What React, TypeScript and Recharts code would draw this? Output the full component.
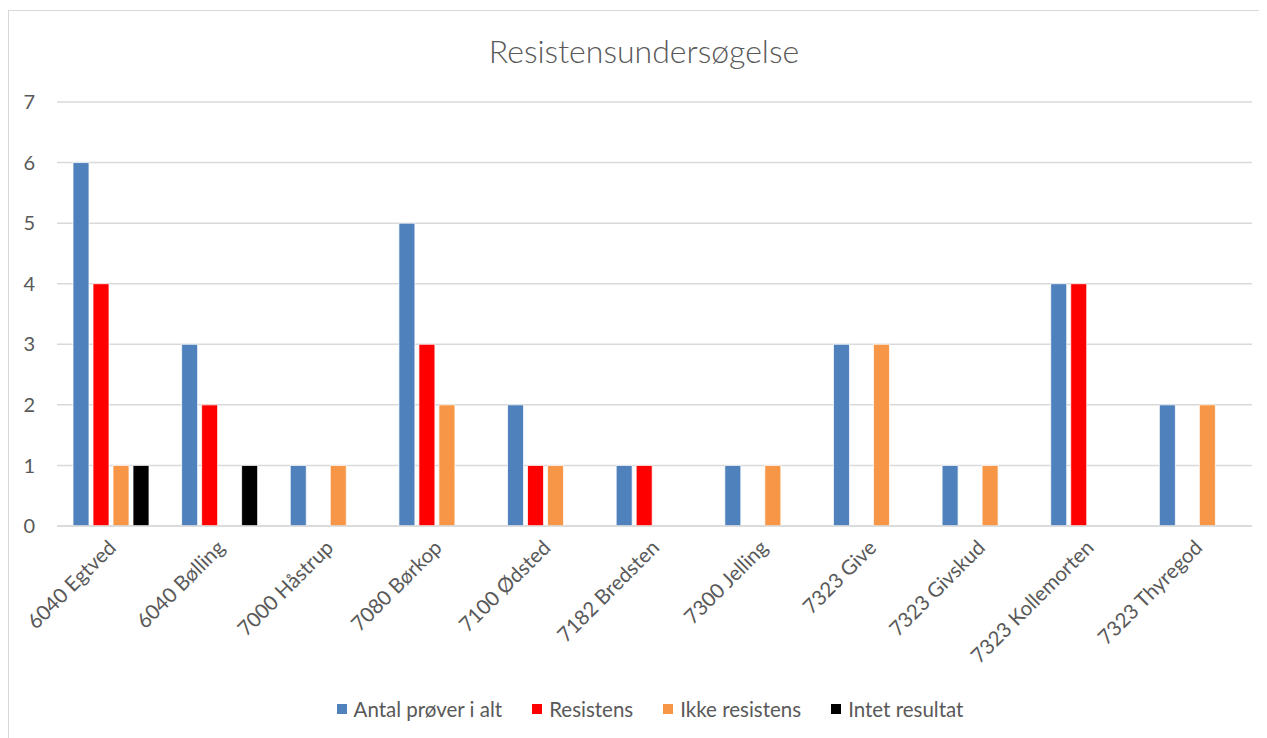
import React from 'react'
import { BarChart, Bar, XAxis, YAxis, CartesianGrid, Legend } from 'recharts'

const categories = [
  '6040 Egtved',
  '6040 Bølling',
  '7000 Håstrup',
  '7080 Børkop',
  '7100 Ødsted',
  '7182 Bredsten',
  '7300 Jelling',
  '7323 Give',
  '7323 Givskud',
  '7323 Kollemorten',
  '7323 Thyregod',
]

const antal = [6, 3, 1, 5, 2, 1, 1, 3, 1, 4, 2]
const resistens = [4, 2, null, 3, 1, 1, null, null, null, 4, null]
const ikkeResistens = [1, null, 1, 2, 1, null, 1, 3, 1, null, 2]
const intet = [1, 1, null, null, null, null, null, null, null, null, null]

const yTicks = [0, 1, 2, 3, 4, 5, 6, 7]

const series = [
  { key: 'antal', name: 'Antal prøver i alt', color: '#4f81bd' },
  { key: 'resistens', name: 'Resistens', color: '#ff0000' },
  { key: 'ikke', name: 'Ikke resistens', color: '#f79646' },
  { key: 'intet', name: 'Intet resultat', color: '#000000' },
]

const data = categories.map((name, i) => ({
  name,
  antal: antal[i],
  resistens: resistens[i],
  ikke: ikkeResistens[i],
  intet: intet[i],
}))

const FONT = 'Lato, "Open Sans", sans-serif'
const TEXT = '#595959'

const XTick = (props: any) => {
  const { x, y, payload } = props
  return (
    <text
      transform={`translate(${x + 6},${y + 15}) rotate(-45)`}
      textAnchor="end"
      fill={TEXT}
      fontSize={20.5}
      fontFamily={FONT}
    >
      {payload.value}
    </text>
  )
}

const LegendContent = () => (
  <div style={{ display: 'flex', justifyContent: 'center', gap: 30, fontFamily: FONT, fontSize: 20.5, color: TEXT }}>
    {series.map((s) => (
      <div key={s.key} style={{ display: 'flex', alignItems: 'center' }}>
        <span style={{ display: 'inline-block', width: 10, height: 10, background: s.color, marginRight: 7 }} />
        <span>{s.name}</span>
      </div>
    ))}
  </div>
)

export default function App() {
  return (
    <div
      style={{
        position: 'relative',
        marginTop: 2,
        width: 1254,
        height: 740,
        border: '1px solid #d9d9d9',
        boxSizing: 'border-box',
        background: '#fff',
      }}
    >
      <div
        style={{
          position: 'absolute',
          top: 20,
          left: 9,
          width: '100%',
          textAlign: 'center',
          fontFamily: FONT,
          fontSize: 32,
          color: TEXT,
          fontWeight: 300,
        }}
      >
        Resistensundersøgelse
      </div>
      <BarChart
        width={1252}
        height={738}
        data={data}
        margin={{ top: 91, right: 9, left: 10, bottom: 0 }}
        barSize={16}
        barGap={4}
      >
        <CartesianGrid vertical={false} stroke="#d9d9d9" strokeWidth={1.5} />
        <XAxis
          dataKey="name"
          interval={0}
          height={199}
          tick={<XTick />}
          tickLine={false}
          axisLine={{ stroke: '#d9d9d9', strokeWidth: 1.5 }}
        />
        <YAxis
          domain={[0, 7]}
          ticks={yTicks}
          width={38}
          axisLine={false}
          tickLine={false}
          tickSize={0}
          tickMargin={22}
          tick={{ fill: TEXT, fontSize: 20, fontFamily: FONT }}
        />
        <Legend
          content={<LegendContent />}
          wrapperStyle={{ position: 'absolute', top: 686, left: 15, width: 1252 }}
        />
        {series.map((s) => (
          <Bar
            key={s.key}
            dataKey={s.key}
            name={s.name}
            fill={s.color}
            stroke="#ffffff"
            strokeWidth={0.75}
            isAnimationActive={false}
          />
        ))}
      </BarChart>
    </div>
  )
}
